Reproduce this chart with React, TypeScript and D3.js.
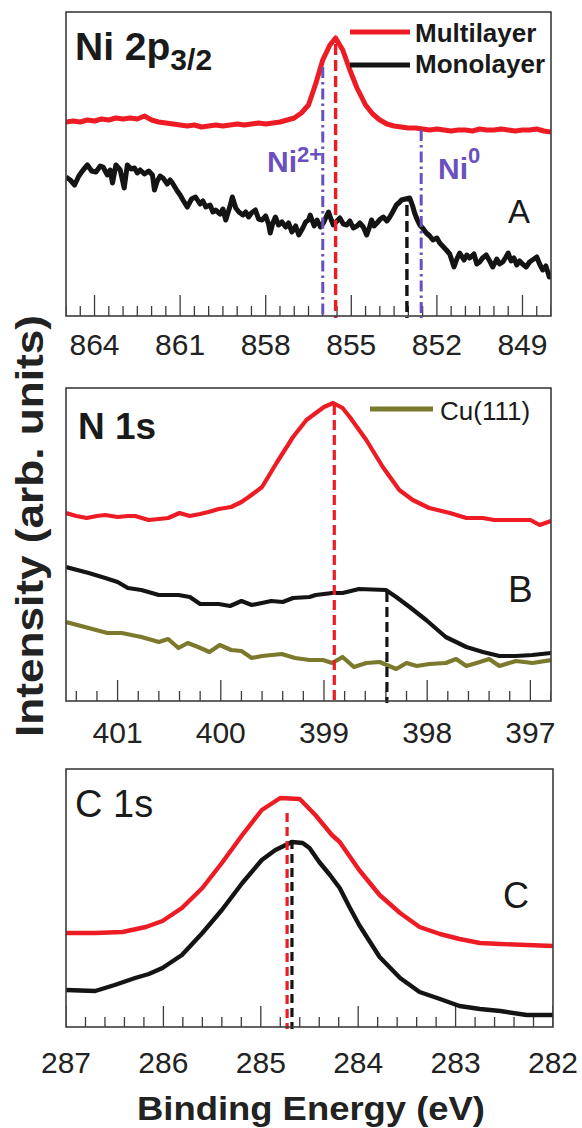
import React from 'react';
import * as d3 from 'd3';

type Pt = [number, number];

// binding energy (eV), intensity (arb. units)
const niMultilayer: Pt[] = [
  [865.0, 194], [864.75, 195], [864.5, 194], [864.25, 196], [864.0, 195], [863.75, 197], [863.5, 196],
  [863.25, 198], [863.0, 197], [862.75, 198], [862.5, 197], [862.25, 200], [862.0, 196], [861.75, 194],
  [861.5, 193], [861.25, 192], [861.0, 191], [860.75, 190], [860.5, 191], [860.25, 189], [860.0, 190],
  [859.75, 191], [859.5, 190], [859.25, 191], [859.0, 192], [858.75, 191], [858.5, 192], [858.25, 193],
  [858.0, 192], [857.75, 193], [857.5, 194], [857.25, 196], [857.0, 198], [856.75, 203], [856.5, 211],
  [856.25, 232], [856.0, 256], [855.75, 271], [855.55, 278], [855.3, 266], [855.05, 246], [854.8, 228],
  [854.5, 211], [854.25, 202], [854.0, 196], [853.75, 192], [853.5, 190], [853.25, 189], [853.0, 188],
  [852.75, 188], [852.5, 187], [852.25, 186], [852.0, 187], [851.75, 186], [851.5, 185], [851.25, 186],
  [851.0, 186], [850.75, 185], [850.5, 187], [850.25, 186], [850.0, 186], [849.75, 187], [849.5, 186],
  [849.25, 185], [849.0, 186], [848.75, 186], [848.5, 187], [848.25, 185], [848.0, 184],
];

const niMonolayer: Pt[] = [
  [865.0, 139], [864.85, 136], [864.7, 131], [864.55, 140], [864.4, 146], [864.25, 151], [864.1, 145],
  [863.95, 144], [863.8, 150], [863.7, 149], [863.55, 141], [863.45, 146], [863.37, 133], [863.25, 151],
  [863.1, 146], [862.96, 128], [862.85, 151], [862.72, 147], [862.6, 148], [862.5, 143], [862.4, 146],
  [862.25, 142], [862.1, 145], [861.97, 141], [861.9, 126], [861.8, 135], [861.7, 140], [861.6, 138],
  [861.45, 132], [861.35, 136], [861.27, 133], [861.1, 125], [861.0, 121], [860.9, 116], [860.75, 109],
  [860.6, 117], [860.46, 119], [860.3, 112], [860.2, 115], [860.1, 109], [859.95, 111], [859.85, 104],
  [859.76, 106], [859.6, 102], [859.5, 107], [859.4, 96], [859.25, 110], [859.17, 119], [859.05, 108],
  [858.94, 104], [858.8, 101], [858.7, 104], [858.6, 99], [858.5, 103], [858.36, 106], [858.25, 97],
  [858.13, 96], [858.0, 100], [857.9, 92], [857.84, 83], [857.75, 93], [857.66, 99], [857.55, 91],
  [857.43, 94], [857.3, 89], [857.2, 93], [857.08, 84], [856.95, 90], [856.84, 81], [856.7, 88],
  [856.6, 94], [856.5, 96], [856.44, 101], [856.3, 90], [856.2, 96], [856.08, 89], [855.98, 93],
  [855.8, 104], [855.7, 96], [855.63, 91], [855.5, 95], [855.4, 98], [855.28, 92], [855.16, 91],
  [855.05, 95], [854.93, 88], [854.8, 90], [854.7, 93], [854.58, 89], [854.46, 81], [854.35, 90],
  [854.29, 96], [854.2, 90], [854.1, 93], [853.98, 97], [853.88, 99], [853.75, 95], [853.65, 99],
  [853.55, 104], [853.42, 111], [853.3, 114], [853.24, 116], [853.1, 117], [852.95, 118], [852.85, 110],
  [852.78, 103], [852.7, 97], [852.6, 91], [852.5, 88], [852.37, 83], [852.25, 80], [852.14, 76],
  [852.0, 78], [851.9, 73], [851.8, 70], [851.67, 66], [851.55, 62], [851.4, 49], [851.3, 57],
  [851.2, 63], [851.05, 56], [850.95, 61], [850.85, 58], [850.7, 62], [850.6, 52], [850.5, 54],
  [850.4, 58], [850.27, 61], [850.15, 55], [850.04, 49], [849.9, 57], [849.8, 52], [849.69, 54],
  [849.6, 58], [849.5, 63], [849.4, 55], [849.3, 58], [849.2, 51], [849.1, 55], [849.0, 52],
  [848.87, 49], [848.75, 54], [848.6, 57], [848.5, 59], [848.4, 52], [848.29, 46], [848.18, 50],
  [848.06, 39], [848.0, 41],
];

const nMultilayer: Pt[] = [
  [401.5, 188], [401.4, 185], [401.3, 183], [401.2, 185], [401.12, 186], [401.0, 184], [400.9, 185],
  [400.83, 185], [400.7, 181], [400.6, 182], [400.51, 183], [400.4, 188], [400.3, 185], [400.2, 187],
  [400.12, 189], [400.02, 192], [399.9, 194], [399.8, 199], [399.73, 204], [399.6, 214], [399.46, 238],
  [399.3, 264], [399.17, 281], [399.0, 294], [398.91, 298], [398.82, 293], [398.75, 284], [398.59, 261],
  [398.43, 234], [398.27, 211], [398.14, 201], [397.98, 193], [397.78, 188], [397.62, 183], [397.46, 183],
  [397.35, 181], [397.24, 181], [397.1, 181], [397.0, 181], [396.91, 176], [396.8, 180],
];

const nMonolayer: Pt[] = [
  [401.5, 134], [401.28, 128], [401.12, 123], [401.0, 119], [400.9, 113], [400.77, 111], [400.6, 106],
  [400.41, 106], [400.3, 104], [400.2, 97], [400.02, 97], [399.91, 95], [399.8, 100], [399.7, 96],
  [399.51, 100], [399.4, 99], [399.3, 103], [399.14, 104], [399.08, 106], [398.92, 108], [398.82, 108],
  [398.66, 112], [398.4, 111], [398.3, 104], [398.17, 94], [398.01, 81], [397.82, 64], [397.62, 54],
  [397.46, 49], [397.3, 45], [397.14, 45], [396.98, 46], [396.8, 48],
];

const nCu111: Pt[] = [
  [401.5, 79], [401.28, 73], [401.1, 68], [400.96, 68], [400.77, 64], [400.6, 59], [400.51, 62],
  [400.41, 53], [400.32, 58], [400.22, 54], [400.11, 49], [400.01, 56], [399.9, 51], [399.8, 50],
  [399.7, 43], [399.6, 45], [399.41, 47], [399.28, 43], [399.14, 41], [399.01, 41], [398.92, 38],
  [398.82, 44], [398.71, 34], [398.59, 38], [398.46, 39], [398.3, 32], [398.2, 38], [398.1, 35],
  [397.98, 37], [397.82, 38], [397.72, 42], [397.62, 35], [397.49, 39], [397.4, 42], [397.3, 35],
  [397.14, 40], [396.98, 38], [396.8, 41],
];

const cMultilayer: Pt[] = [
  [287.0, 94], [286.7, 94], [286.42, 95], [286.18, 100], [286.01, 106], [285.81, 119], [285.6, 139],
  [285.4, 164], [285.19, 192], [284.99, 217], [284.8, 229], [284.6, 228], [284.44, 212], [284.27, 192],
  [284.19, 185], [283.99, 157], [283.78, 132], [283.57, 114], [283.37, 100], [283.16, 93], [282.96, 88],
  [282.75, 84], [282.54, 83], [282.27, 82], [282.0, 81],
];

const cMonolayer: Pt[] = [
  [287.0, 37], [286.7, 36], [286.5, 42], [286.29, 49], [286.15, 53], [286.01, 59], [285.81, 72],
  [285.6, 94], [285.4, 117], [285.19, 144], [284.99, 167], [284.85, 177], [284.68, 185], [284.57, 184],
  [284.5, 179], [284.4, 165], [284.29, 152], [284.19, 139], [284.09, 120], [283.99, 102], [283.78, 70],
  [283.57, 49], [283.37, 35], [283.16, 28], [282.96, 21], [282.75, 18], [282.54, 16], [282.27, 12],
  [282.0, 12],
];

const niTicks = [864, 861, 858, 855, 852, 849];
const nTicks = [401, 400, 399, 398, 397];
const cTicks = [287, 286, 285, 284, 283, 282];

const RED = '#ED1C24';
const BLACK = '#141414';
const OLIVE = '#7A792C';
const PURPLE = '#6A4FBE';
const FRAME = '#3c3c3c';
const FONT = 'Liberation Sans, Arial, Helvetica, sans-serif';

type Marker = { e: number; top: number; color: string; dash: string; w: number };
type Series = { data: Pt[]; color: string; w: number };

type PanelProps = {
  id: string;
  left: number; top: number; right: number; bottom: number;
  domain: [number, number];
  yMax: number;
  ticks: number[];
  minorStep: number;
  labelY: number;
  series: Series[];
  markers: Marker[];
  children?: React.ReactNode;
};

function Panel(p: PanelProps) {
  const x = d3.scaleLinear().domain(p.domain).range([p.left, p.right]);
  const y = d3.scaleLinear().domain([0, p.yMax]).range([p.bottom, p.top]);
  const line = d3.line<Pt>().x(d => x(d[0])).y(d => y(d[1]));
  const lo = Math.min(p.domain[0], p.domain[1]);
  const hi = Math.max(p.domain[0], p.domain[1]);
  const minor = d3.range(Math.ceil(lo / p.minorStep) * p.minorStep, hi + 1e-6, p.minorStep)
    .filter(v => !p.ticks.some(t => Math.abs(t - v) < 1e-6));
  return (
    <g>
      <defs>
        <clipPath id={'clip-' + p.id}>
          <rect x={p.left} y={p.top} width={p.right - p.left} height={p.bottom - p.top} />
        </clipPath>
      </defs>
      <g clipPath={`url(#clip-${p.id})`}>
        {minor.map(v => (
          <line key={'m' + v} x1={x(v)} x2={x(v)} y1={p.bottom} y2={p.bottom - 10} stroke={FRAME} strokeWidth={1.3} />
        ))}
        {p.ticks.map(v => (
          <line key={'t' + v} x1={x(v)} x2={x(v)} y1={p.bottom} y2={p.bottom - 21} stroke={FRAME} strokeWidth={1.3} />
        ))}
        {p.series.map((s, i) => (
          <path key={i} d={line(s.data) || ''} fill="none" stroke={s.color} strokeWidth={s.w} strokeLinejoin="round" />
        ))}
      </g>
      {p.markers.map((m, i) => (
        <line key={'k' + i} x1={x(m.e)} x2={x(m.e)} y1={y(m.top)} y2={p.bottom + 2} stroke={m.color}
          strokeWidth={m.w} strokeDasharray={m.dash} />
      ))}
      <rect x={p.left} y={p.top} width={p.right - p.left} height={p.bottom - p.top} fill="none" stroke={FRAME} strokeWidth={1.6} />
      {p.ticks.map(v => (
        <text key={'l' + v} x={x(v)} y={p.labelY} textAnchor="middle" fontSize={30} fill="#222" fontFamily={FONT}>{v}</text>
      ))}
      {p.children}
    </g>
  );
}

export default function App() {
  return (
    <svg width={582} height={1128} style={{ position: 'absolute', left: 0, top: 0, background: '#fff' }} fontFamily={FONT}>
      <Panel id="a" left={66} top={12} right={551} bottom={316} domain={[865, 848]} yMax={304}
        ticks={niTicks} minorStep={0.5} labelY={355}
        series={[{ data: niMultilayer, color: RED, w: 5 }, { data: niMonolayer, color: BLACK, w: 5 }]}
        markers={[
          { e: 856.0, top: 249, color: PURPLE, dash: '11,4,2.5,4', w: 3 },
          { e: 855.55, top: 272, color: RED, dash: '11,5', w: 3.4 },
          { e: 853.05, top: 111, color: BLACK, dash: '11,5', w: 3.4 },
          { e: 852.55, top: 186, color: PURPLE, dash: '11,4,2.5,4', w: 3 },
        ]}>
        <text x={75} y={60} fontSize={39} fontWeight="bold" fill="#1a1a1a">Ni 2p<tspan fontSize={30} dy={10}>3/2</tspan></text>
        <line x1={350} x2={410} y1={32} y2={32} stroke={RED} strokeWidth={5} />
        <line x1={350} x2={410} y1={65} y2={65} stroke={BLACK} strokeWidth={5} />
        <text x={415} y={42} fontSize={26} fontWeight="bold" fill="#1a1a1a">Multilayer</text>
        <text x={415} y={73} fontSize={26} fontWeight="bold" fill="#1a1a1a">Monolayer</text>
        <text x={267} y={172} fontSize={30} fontWeight="bold" fill={PURPLE}>Ni<tspan fontSize={22} dy={-10}>2+</tspan></text>
        <text x={438} y={179} fontSize={30} fontWeight="bold" fill={PURPLE}>Ni<tspan fontSize={22} dy={-16}>0</tspan></text>
        <text x={508} y={223} fontSize={33} fill="#1a1a1a">A</text>
      </Panel>

      <Panel id="b" left={66} top={388} right={551} bottom={701} domain={[401.5, 396.8]} yMax={313}
        ticks={nTicks} minorStep={0.2} labelY={743}
        series={[
          { data: nMultilayer, color: RED, w: 4.2 },
          { data: nMonolayer, color: BLACK, w: 4.2 },
          { data: nCu111, color: OLIVE, w: 4.2 },
        ]}
        markers={[
          { e: 398.9, top: 296, color: RED, dash: '10,5', w: 3.2 },
          { e: 398.39, top: 109, color: BLACK, dash: '10,5', w: 3.2 },
        ]}>
        <text x={78} y={439} fontSize={37} fontWeight="bold" fill="#1a1a1a">N 1s</text>
        <line x1={370} x2={433} y1={409} y2={409} stroke={OLIVE} strokeWidth={5} />
        <text x={440} y={420} fontSize={26} fill="#1a1a1a">Cu(111)</text>
        <text x={508} y={602} fontSize={37} fill="#1a1a1a">B</text>
      </Panel>

      <Panel id="c" left={66} top={769} right={553} bottom={1027} domain={[287, 282]} yMax={258}
        ticks={cTicks} minorStep={0.2} labelY={1073}
        series={[{ data: cMultilayer, color: RED, w: 4.4 }, { data: cMonolayer, color: BLACK, w: 4.4 }]}
        markers={[
          { e: 284.73, top: 214, color: RED, dash: '9,5', w: 3.2 },
          { e: 284.68, top: 187, color: BLACK, dash: '9,5', w: 3.2 },
        ]}>
        <text x={75} y={817} fontSize={38} fill="#1a1a1a">C 1s</text>
        <text x={503} y={908} fontSize={36} fill="#1a1a1a">C</text>
      </Panel>

      <text x={311} y={1120} textAnchor="middle" fontSize={34} fontWeight="bold" fill="#222"
        textLength={348} lengthAdjust="spacingAndGlyphs">Binding Energy (eV)</text>
      <text transform="translate(43,526) rotate(-90)" textAnchor="middle" fontSize={38} fontWeight="bold" fill="#222"
        textLength={422} lengthAdjust="spacingAndGlyphs">Intensity (arb. units)</text>
    </svg>
  );
}
